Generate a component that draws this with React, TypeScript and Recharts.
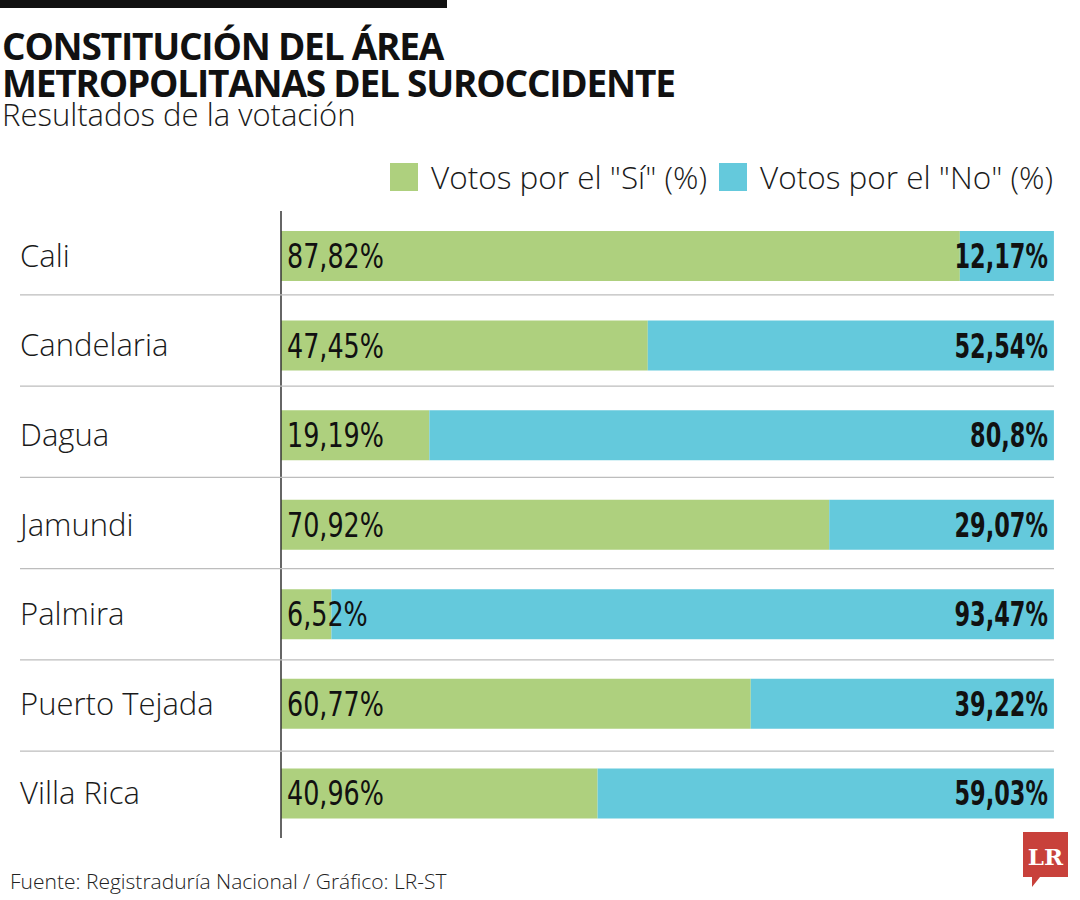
import { BarChart, Bar, XAxis, YAxis, LabelList } from 'recharts'

// ─── Data ─────────────────────────────────────────────────────────────────────

const municipios = ['Cali', 'Candelaria', 'Dagua', 'Jamundi', 'Palmira', 'Puerto Tejada', 'Villa Rica']
const votosSi = [87.82, 47.45, 19.19, 70.92, 6.52, 60.77, 40.96]
const votosNo = [12.17, 52.54, 80.8, 29.07, 93.47, 39.22, 59.03]
const seriesNames = ['Votos por el "Sí" (%)', 'Votos por el "No" (%)']

const data = municipios.map((name, i) => ({ name, si: votosSi[i], no: votosNo[i] }))

const GREEN = '#aed07e'
const CYAN = '#64c9dc'
const LIGHT = '"Open Sans", "Noto Sans", sans-serif'
const LABEL_FONT = '"DejaVu Sans", sans-serif'

const fmt = (v: number) => String(v).replace('.', ',') + '%'

// ─── Pieces ───────────────────────────────────────────────────────────────────

function CategoryTick(props: any) {
  const { y, payload } = props
  // separators sit a little further apart than the bars in the original
  const sepY = y + 39 + payload.index * 1.7
  return (
    <g>
      <text x={20} y={y} dy={11} fontSize={31} fontWeight={300} fill="#1a1a1a" fontFamily={LIGHT}>
        {payload.value}
      </text>
      {payload.index < municipios.length - 1 && (
        <line x1={20} x2={1054} y1={sepY} y2={sepY} stroke="#bdbdbd" strokeWidth={1.2} />
      )}
    </g>
  )
}

// condensed look: squeeze the only sans fonts we have horizontally
function SiLabel(props: any) {
  const { x, y, height, value } = props
  return (
    <text
      transform={`translate(${x + 6},${y + height / 2 + 12}) scale(0.77,1)`}
      fontSize={33}
      fill="#111"
      fontFamily={LABEL_FONT}
    >
      {fmt(value)}
    </text>
  )
}

function NoLabel(props: any) {
  const { x, y, width, height, value } = props
  return (
    <text
      transform={`translate(${x + width - 6},${y + height / 2 + 12}) scale(0.68,1)`}
      textAnchor="end"
      fontSize={33}
      fontWeight={700}
      fill="#111"
      fontFamily={LABEL_FONT}
    >
      {fmt(value)}
    </text>
  )
}

// ─── App ──────────────────────────────────────────────────────────────────────

export default function App() {
  const colors = [GREEN, CYAN]
  return (
    <div style={{ position: 'absolute', left: 0, top: 0, width: 1080, height: 900, background: '#fff', overflow: 'hidden' }}>
      <div style={{ position: 'absolute', left: 0, top: 0, width: 447, height: 8, background: '#111' }} />
      <div
        style={{
          position: 'absolute', left: 2, top: 27, fontFamily: '"Open Sans", sans-serif', fontWeight: 700,
          fontSize: 37, lineHeight: '37px', color: '#111', letterSpacing: -1.2, whiteSpace: 'nowrap',
        }}
      >
        CONSTITUCIÓN DEL ÁREA
        <br />
        METROPOLITANAS DEL SUROCCIDENTE
      </div>
      <div style={{ position: 'absolute', left: 2, top: 96, fontFamily: LIGHT, fontWeight: 300, fontSize: 31, lineHeight: '36px', color: '#1a1a1a' }}>
        Resultados de la votación
      </div>

      {/* Legend */}
      <div style={{ position: 'absolute', left: 390, top: 157, display: 'flex', alignItems: 'center', gap: 12 }}>
        {seriesNames.map((label, i) => (
          <div key={label} style={{ display: 'flex', alignItems: 'center' }}>
            <span style={{ width: 28, height: 28, background: colors[i], display: 'inline-block', marginRight: 13 }} />
            <span style={{ fontFamily: LIGHT, fontWeight: 300, fontSize: 31.5, lineHeight: '40px', color: '#1a1a1a', whiteSpace: 'nowrap' }}>
              {label}
            </span>
          </div>
        ))}
      </div>

      <BarChart
        width={1080}
        height={900}
        data={data}
        layout="vertical"
        margin={{ top: 211, right: 26, bottom: 62, left: 0 }}
        barSize={50}
        style={{ position: 'absolute', left: 0, top: 0 }}
      >
        <XAxis type="number" domain={[0, 100]} hide />
        <YAxis
          type="category"
          dataKey="name"
          width={281}
          tickLine={false}
          axisLine={{ stroke: '#333', strokeWidth: 1.5 }}
          tick={<CategoryTick />}
          interval={0}
        />
        <Bar dataKey="si" stackId="a" fill={GREEN} isAnimationActive={false}>
          <LabelList dataKey="si" content={<SiLabel />} />
        </Bar>
        <Bar dataKey="no" stackId="a" fill={CYAN} isAnimationActive={false}>
          <LabelList dataKey="no" content={<NoLabel />} />
        </Bar>
      </BarChart>

      <div style={{ position: 'absolute', left: 10, top: 867, fontFamily: LIGHT, fontWeight: 300, fontSize: 21, lineHeight: '28px', color: '#222' }}>
        Fuente: Registraduría Nacional / Gráfico: LR-ST
      </div>

      <svg width={50} height={60} style={{ position: 'absolute', left: 1022, top: 831 }}>
        <path d="M1 1 H46 V46 H18 L10 56 L10 46 H1 Z" fill="#c8413b" />
        <text x={23.5} y={34} textAnchor="middle" fontSize={23} fontWeight={700} fill="#fff" fontFamily='"DejaVu Serif", serif'>
          LR
        </text>
      </svg>
    </div>
  )
}
